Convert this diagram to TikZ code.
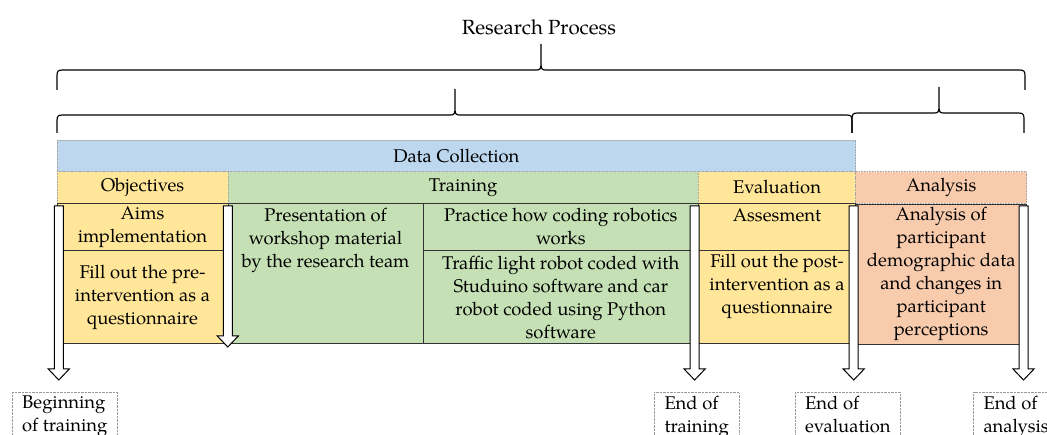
\documentclass[tikz,border=0pt]{standalone}
\usepackage{fontspec}
\setmainfont{TeX Gyre Pagella}
\usetikzlibrary{positioning}
\definecolor{dcblue}{HTML}{BDD7EE}
\definecolor{objyellow}{HTML}{FFE699}
\definecolor{trgreen}{HTML}{C5E0B4}
\definecolor{ansalmon}{HTML}{F8CBAD}
\tikzset{
    txt/.style={font=\fontsize{18.4}{23}\selectfont, align=center, inner sep=0pt},
    head/.style={txt, draw=gray!70, densely dotted, line width=0.6pt},
    cell/.style={txt, draw=black!80, line width=0.6pt},
    endbox/.style={txt, draw=gray!80, densely dotted, align=left, fill=white,
        anchor=north west, inner xsep=10pt, inner ysep=4pt},
    blockarrow/.style={draw=black, fill=white, line width=1pt},
    bracepath/.style={draw=black, line width=1.2pt}
}
% x1, x2, xtip, yline, ytip, yend
\newcommand{\wordbrace}[6]{%
\draw[bracepath] (#1,#6) -- (#1,#4+6) .. controls (#1,#4+1) and (#1+1,#4) .. (#1+6,#4)
    -- (#3-5,#4) .. controls (#3-1,#4) and (#3,#4-1) .. (#3,#4-6) -- (#3,#5)
    -- (#3,#4-6) .. controls (#3,#4-1) and (#3+1,#4) .. (#3+5,#4)
    -- (#2-6,#4) .. controls (#2-1,#4) and (#2,#4+1) .. (#2,#4+6) -- (#2,#6);}
% x, ytop, ytip
\newcommand{\blockarrow}[3]{%
\draw[blockarrow] (#1-4.5,#2) -- (#1+4.5,#2) -- (#1+4.5,#3-11) -- (#1+10.5,#3-11)
    -- (#1,#3) -- (#1-10.5,#3-11) -- (#1-4.5,#3-11) -- cycle;}

\begin{document}
\begin{tikzpicture}[x=1pt,y=-1pt]
\useasboundingbox (0,0) rectangle (1047,435);

\node[txt, font=\fontsize{20.5}{24}\selectfont] (title) at (539,27) {Research Process};

% braces
\wordbrace{57}{1025}{541}{70}{44}{90}
\wordbrace{57}{852}{455}{115}{89}{133}
\wordbrace{852}{1024}{939}{113}{87}{133}

% header rows
\node[head, fill=dcblue, minimum width=798.7, minimum height=31.5] (dc) at (456.3,155.8) {Data Collection};
\node[head, fill=objyellow, minimum width=171, minimum height=31.5] (objh) at (142.5,187.5) {Objectives};
\node[head, fill=trgreen, minimum width=470.3, minimum height=31.5] (trh) at (463.1,187.5) {Training};
\node[head, fill=objyellow, minimum width=157.4, minimum height=31.5] (evh) at (777,187.5) {Evaluation};
\node[head, fill=ansalmon, minimum width=171, minimum height=31.5] (anh) at (941.2,187.5) {Analysis};

% body cells
\node[cell, fill=objyellow, minimum width=171, minimum height=47.4] (aims) at (142.5,227) {Aims\\implementation};
\node[cell, fill=objyellow, minimum width=171, minimum height=92.6] (fillpre) at (142.5,297) {Fill out the pre-\\intervention as a\\questionnaire};
\node[cell, fill=trgreen, minimum width=195.3, minimum height=140] (present) at (325.6,273.3) {};
\node[txt, below=5pt of present.north] (presenttxt) {Presentation of\\workshop material\\by the research team};
\node[cell, fill=trgreen, minimum width=275, minimum height=47.4] (practice) at (560.8,227) {Practice how coding robotics\\works};
\node[cell, fill=trgreen, minimum width=275, minimum height=92.6] (traffic) at (560.8,297) {Traffic light robot coded with\\Studuino software and car\\robot coded using Python\\software};
\node[cell, fill=objyellow, minimum width=157.4, minimum height=47.4] (assess) at (777,227) {};
\node[txt, below=5pt of assess.north] (assesstxt) {Assesment};
\node[cell, fill=objyellow, minimum width=157.4, minimum height=92.6] (fillpost) at (777,297) {};
\node[txt, below=4pt of fillpost.north] (fillposttxt) {Fill out the post-\\intervention as a\\questionnaire};
\node[cell, fill=ansalmon, minimum width=171, minimum height=140] (analysis) at (941.2,274) {Analysis of\\participant\\demographic data\\and changes in\\participant\\perceptions};

% milestone boxes
\node[endbox] (begintr) at (12,392) {Beginning\\of training};
\node[endbox] (endtr) at (654.3,392.3) {End of\\training};
\node[endbox] (endev) at (795,392.3) {End of\\evaluation};
\node[endbox] (endan) at (973.3,392.3) {End of\\analysis};

% arrows
\blockarrow{58.8}{206}{380}
\blockarrow{227.8}{206}{347}
\blockarrow{694.6}{206}{380}
\blockarrow{853.7}{206}{380}
\blockarrow{1023.5}{206}{380}

\end{tikzpicture}
\end{document}
